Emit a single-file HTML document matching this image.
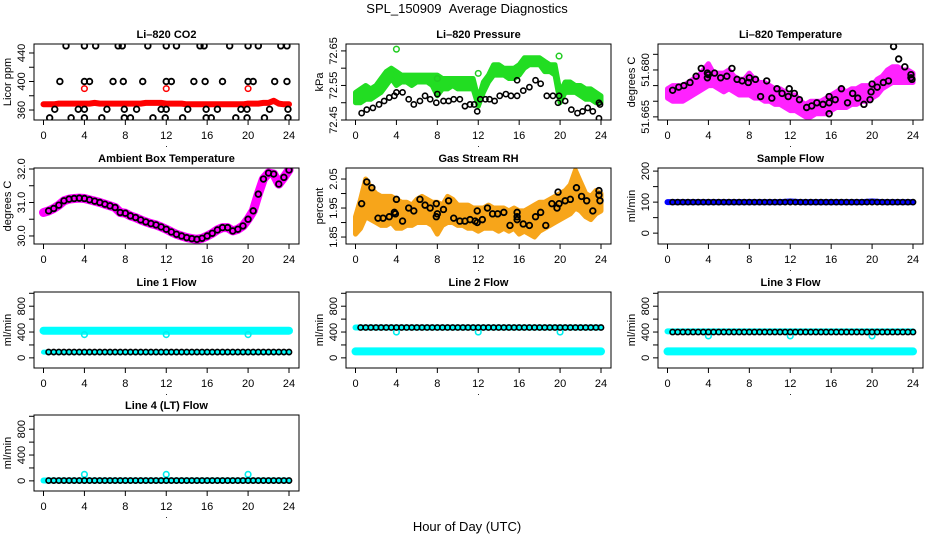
<!DOCTYPE html>
<html><head><meta charset="utf-8"><style>
html,body{margin:0;padding:0;background:#fff;}
svg{display:block;font-family:"Liberation Sans",sans-serif;}
</style></head><body>
<svg id="chart" width="936" height="540" viewBox="0 0 936 540" xmlns="http://www.w3.org/2000/svg">
<text x="467" y="13" font-size="13" text-anchor="middle">SPL_150909&#160;&#160;Average Diagnostics</text>
<text x="467" y="531" font-size="13" text-anchor="middle">Hour of Day (UTC)</text>
</svg>
<script>
// ---------- data ----------
const hourTicks = [0,4,8,12,16,20,24];
// CO2
const co2Red = [368,368,368,369,369,369,369,369,369,369,370,369,369,369,369,369,369,369,369,369,370,370,370,370,369,369,369,369,368,368,368,368,368,368,368,368,368,368,368,368,369,369,369,370,370,373,369,368,368];
const co2RedOutX = [4,12,20];
const co2RedOutY = [390,390,390];
const co2BlackX = [2.2,4,5.1,7.3,7.7,10.2,12,13,15.3,15.7,18.2,20,21,23.2,23.8, 1.6,4,4.5,6.8,7.8,9.7,12,12.5,14.7,15.8,17.5,20,20.5,22.6,23.8, 1.1,3.4,4,6.2,7.9,9.1,11.5,12,14.1,15.9,17,19.3,19.9,22.1,23.9, 0.6,2.7,4,5.7,7.9,8.5,10.7,11.9,13.6,15.9,16.4,18.8,19.9,21.6,23.9];
const co2BlackY = [450,450,450,450,450,450,450,450,450,450,450,450,450,450,450, 400,400,400,400,400,400,400,400,400,400,400,400,400,400,400, 361,361,361,361,361,361,361,361,361,361,361,361,361,361,361, 349,349,349,349,349,349,349,349,349,349,349,349,349,349,349];
// Pressure
const presLow = [72.50,72.50,72.51,72.51,72.52,72.53,72.55,72.57,72.55,72.56,72.56,72.55,72.56,72.56,72.56,72.55,72.52,72.54,72.54,72.55,72.54,72.54,72.54,72.54,72.49,72.53,72.56,72.58,72.58,72.58,72.57,72.57,72.58,72.60,72.61,72.61,72.61,72.59,72.59,72.58,72.50,72.53,72.53,72.53,72.52,72.51,72.51,72.50,72.50];
const presHigh = [72.53,72.54,72.55,72.54,72.55,72.57,72.59,72.60,72.59,72.58,72.58,72.58,72.58,72.58,72.58,72.58,72.58,72.57,72.57,72.57,72.57,72.57,72.57,72.57,72.51,72.56,72.58,72.61,72.61,72.60,72.60,72.60,72.61,72.63,72.63,72.63,72.63,72.62,72.61,72.61,72.53,72.56,72.56,72.55,72.55,72.54,72.54,72.53,72.52];
const presOutX = [4,12,19.9,8];
const presOutY = [72.655,72.585,72.635,72.57];
const presBlackX = [0.6,1.1,1.7,2.3,2.8,3.3,3.8,4,4.6,5.2,5.7,6.3,6.8,7.3,7.9,8,8.6,9.1,9.6,10.2,10.7,11.2,11.6,11.9,12.2,12.7,13.1,13.6,14.1,14.7,15.2,15.8,15.8,16.4,17,17.6,18.1,18.7,19.3,19.8,19.9,20.5,21.1,21.7,22.2,22.7,23.2,23.8,23.9,23.8];
const presBlackY = [72.47,72.48,72.485,72.495,72.505,72.515,72.52,72.53,72.53,72.51,72.495,72.505,72.52,72.51,72.50,72.525,72.505,72.505,72.51,72.51,72.49,72.495,72.495,72.475,72.51,72.51,72.51,72.505,72.52,72.525,72.52,72.52,72.565,72.535,72.545,72.565,72.555,72.52,72.52,72.50,72.52,72.505,72.48,72.47,72.475,72.485,72.475,72.455,72.495,72.50];
// Li-820 temperature
const tempLow = [51.671,51.670,51.670,51.670,51.671,51.672,51.673,51.674,51.675,51.675,51.674,51.673,51.674,51.673,51.672,51.672,51.672,51.671,51.671,51.670,51.670,51.669,51.669,51.668,51.667,51.667,51.666,51.665,51.665,51.666,51.666,51.666,51.667,51.668,51.668,51.668,51.669,51.669,51.670,51.670,51.671,51.672,51.674,51.675,51.676,51.676,51.676,51.676,51.676];
const tempHigh = [51.674,51.675,51.675,51.675,51.676,51.677,51.678,51.680,51.682,51.679,51.679,51.679,51.680,51.678,51.677,51.677,51.679,51.677,51.676,51.676,51.675,51.674,51.674,51.673,51.672,51.672,51.670,51.669,51.670,51.670,51.670,51.671,51.672,51.673,51.674,51.673,51.674,51.674,51.675,51.675,51.675,51.677,51.678,51.680,51.681,51.681,51.680,51.680,51.679];
const tempBlackX = [0.5,1.1,1.6,2.2,2.8,3.3,3.9,3.9,4.0,4.6,5.2,5.8,6.3,6.8,7.3,7.9,8.0,8.6,9.1,9.7,10.2,10.7,11.2,11.8,11.9,12.4,12.9,13.6,14.1,14.6,15.2,15.8,15.8,15.8,16.4,17.0,17.6,18.1,18.6,19.2,19.8,19.9,20.0,20.5,21.1,21.6,22.1,22.6,23.2,23.8,23.9,23.8];
const tempBlackY = [51.6735,51.6745,51.675,51.676,51.678,51.6805,51.679,51.6775,51.6785,51.679,51.6775,51.678,51.6805,51.677,51.6765,51.676,51.6775,51.677,51.6715,51.6765,51.671,51.674,51.6725,51.6715,51.674,51.6725,51.6705,51.668,51.6685,51.6695,51.669,51.6715,51.6695,51.666,51.6705,51.674,51.6695,51.6725,51.671,51.669,51.6705,51.673,51.6755,51.6745,51.676,51.6765,51.6875,51.6835,51.681,51.6785,51.677,51.6775];
// Ambient
const ambient = [30.70,30.75,30.82,30.92,31.05,31.10,31.12,31.13,31.12,31.08,31.04,31.00,30.95,30.90,30.85,30.70,30.68,30.60,30.55,30.48,30.42,30.37,30.33,30.27,30.20,30.12,30.05,30.00,29.95,29.92,29.90,29.93,30.00,30.08,30.18,30.25,30.25,30.15,30.20,30.30,30.50,30.75,31.25,31.70,31.88,31.85,31.55,31.75,31.97];
// RH
const rhLow = [1.86,1.88,1.92,1.91,1.90,1.89,1.89,1.90,1.88,1.88,1.89,1.89,1.90,1.90,1.90,1.89,1.86,1.89,1.90,1.90,1.89,1.89,1.88,1.88,1.87,1.88,1.88,1.88,1.87,1.88,1.87,1.88,1.86,1.87,1.86,1.85,1.87,1.88,1.89,1.90,1.91,1.92,1.93,1.95,1.94,1.92,1.91,1.93,1.94];
const rhHigh = [1.92,1.98,2.05,2.02,2.00,1.99,1.99,1.99,1.98,1.97,1.97,1.96,1.98,1.99,1.98,1.97,1.97,1.96,1.99,1.98,1.96,1.96,1.96,1.95,1.95,1.95,1.96,1.95,1.95,1.95,1.94,1.95,1.94,1.94,1.95,1.96,1.97,1.97,1.98,1.99,2.00,2.01,2.03,2.08,2.04,2.00,1.99,2.01,2.00];
const rhBlackX = [0.6,1.1,1.6,2.2,2.7,3.3,3.8,3.9,4.0,4.6,5.2,5.7,6.3,6.8,7.3,7.9,7.9,8.0,8.6,9.1,9.6,10.2,10.7,11.2,11.7,11.9,11.9,12.4,12.9,13.4,13.9,14.5,15.1,15.8,15.8,15.8,16.4,17.0,17.6,18.1,18.6,19.2,19.7,19.8,19.9,20.5,21.0,21.6,22.1,22.6,23.2,23.8,23.8,23.9];
const rhBlackY = [1.965,2.04,2.02,1.915,1.915,1.92,1.935,1.93,1.98,1.905,1.95,1.94,1.98,1.96,1.95,1.965,1.92,1.93,1.945,1.975,1.915,1.905,1.905,1.91,1.905,1.94,1.90,1.91,1.95,1.93,1.93,1.935,1.89,1.935,1.92,1.91,1.895,1.89,1.92,1.935,1.89,1.965,1.95,2.005,1.965,1.975,1.98,2.02,1.99,1.975,1.94,2.01,1.995,1.975];
// Flows (hourly band values, half-hour black averages)
const sampleBand = [100,100,100,100,100,100,100,100,100,100,100,100,102,100,100,100,100,100,100,100,102,100,100,100,100];
const sampleBlack = [100,100,100,100,100,100,100,100,100,100,100,100,100,100,100,100,100,100,100,100,100,100,100,100,100,100,100,100,100,100,100,100,100,100,100,100,100,100,100,100,100,100,100,100,100,100,100,100];
const line1High = [420,420,420,420,420,420,420,420,420,420,420,420,420,420,420,420,420,420,420,420,420,420,420,420,420];
const line1Low = [90,90,90,90,90,90,90,90,90,90,90,90,90,90,90,90,90,90,90,90,90,90,90,90,90];
const line1Black = [90,90,90,90,90,90,90,90,90,90,90,90,90,90,90,90,90,90,90,90,90,90,90,90,90,90,90,90,90,90,90,90,90,90,90,90,90,90,90,90,90,90,90,90,90,90,90,90];
const line1OutY = [360,360,360];
const line2High = [470,470,470,470,470,470,470,470,470,470,470,470,470,470,470,470,470,470,470,470,470,470,470,470,470];
const line2Low = [100,100,100,100,100,100,100,100,100,100,100,100,100,100,100,100,100,100,100,100,100,100,100,100,100];
const line2Black = [470,470,470,470,470,470,470,470,470,470,470,470,470,470,470,470,470,470,470,470,470,470,470,470,470,470,470,470,470,470,470,470,470,470,470,470,470,470,470,470,470,470,470,470,470,470,470,470];
const line2OutY = [400,400,400];
const line3High = [410,410,410,410,410,410,410,410,410,410,410,410,410,410,410,410,410,410,410,410,410,410,410,410,410];
const line3Low = [100,100,100,100,100,100,100,100,100,100,100,100,100,100,100,100,100,100,100,100,100,100,100,100,100];
const line3Black = [400,400,400,400,400,400,400,400,400,400,400,400,400,400,400,400,400,400,400,400,400,400,400,400,400,400,400,400,400,400,400,400,400,400,400,400,400,400,400,400,400,400,400,400,400,400,400,400];
const line3OutY = [340,340,340];
const line4Band = [5,5,5,5,5,5,5,5,5,5,5,5,5,5,5,5,5,5,5,5,5,5,5,5,5];
const line4Black = [5,5,5,5,5,5,5,5,5,5,5,5,5,5,5,5,5,5,5,5,5,5,5,5,5,5,5,5,5,5,5,5,5,5,5,5,5,5,5,5,5,5,5,5,5,5,5,5];
const line4OutY = [100,100,100];
const flowOutX = [4,12,20];

// ---------- drawing ----------
const NS = "http://www.w3.org/2000/svg";
const svg = document.getElementById("chart");
const COLS = [34,346,658], ROWS = [44,168,292,415], W = 265, H = 76;
function mk(tag, attrs, parent){ const e = document.createElementNS(NS, tag); for (const k in attrs) e.setAttribute(k, attrs[k]); (parent||svg).appendChild(e); return e; }
function xScale(c, h){ return COLS[c] + 9.5 + h * 245.5 / 24; }
function yScaleFn(r, dom){ return v => ROWS[r] + H - (v - dom[0]) / (dom[1] - dom[0]) * H; }
const halfHours = []; for (let i = 0; i < 49; i++) halfHours.push(i * 0.5);
const blackHours = []; for (let i = 1; i <= 48; i++) blackHours.push(i * 0.5);
const wholeHours = []; for (let i = 0; i < 25; i++) wholeHours.push(i);

function panel(name, c, r, title, ylab, dom, ticks, labels){
  const g = mk("g", {});
  
  
  const L = COLS[c], T = ROWS[r], B = T + H, y = yScaleFn(r, dom);
  const t = mk("text", {x: L + W/2, y: T - 6, "font-size": 11, "font-weight": "bold", "text-anchor": "middle"}, g);
  t.textContent = title;
  
  
  const yl = mk("text", {x: 0, y: 0, "font-size": 11, "text-anchor": "middle", transform: `translate(${L-23},${T+H/2}) rotate(-90)`}, g);
  yl.textContent = ylab;
  
  
  hourTicks.forEach(h => {
    const x = xScale(c, h);
    mk("line", {x1: x, y1: B, x2: x, y2: B + 5, stroke: "#000"}, g);
    const tl = mk("text", {x: x, y: B + 19, "font-size": 11, "text-anchor": "middle"}, g);
    tl.textContent = h;
    
    
  });
  const dot = mk("text", {x: L + W/2, y: B + 27, "font-size": 9, "text-anchor": "middle"}, g);
  dot.textContent = ".";
  ticks.forEach(v => {
    const yy = y(v);
    mk("line", {x1: L - 5, y1: yy, x2: L, y2: yy, stroke: "#000"}, g);
  });
  labels.forEach(v => {
    const yy = y(v);
    const tl = mk("text", {x: 0, y: 0, "font-size": 11, "text-anchor": "middle", transform: `translate(${L-9},${yy}) rotate(-90)`}, g);
    tl.textContent = v;
    
    
  });
  const clip = mk("clipPath", {id: "clip-" + name}, g);
  mk("rect", {x: L, y: T, width: W, height: H}, clip);
  const plot = mk("g", {"clip-path": `url(#clip-${name})`}, g);
  const box = mk("rect", {x: L, y: T, width: W, height: H, fill: "none", stroke: "#000"}, g);
  
  
  return {c, r, y, plot, name};
}
function circles(p, xs, ys, color, sw, rad, label){
  xs.forEach((h, i) => {
    const e = mk("circle", {cx: xScale(p.c, h), cy: p.y(ys[i]), r: rad || 2.8, fill: "none", stroke: color, "stroke-width": sw || 1.6}, p.plot);
    
    
  });
}
function band(p, xs, lo, hi, color, label){
  let d = "";
  xs.forEach((h, i) => { d += (i ? "L" : "M") + xScale(p.c, h).toFixed(1) + "," + p.y(hi[i]).toFixed(1); });
  for (let i = xs.length - 1; i >= 0; i--) d += "L" + xScale(p.c, xs[i]).toFixed(1) + "," + p.y(lo[i]).toFixed(1);
  const e = mk("path", {d: d + "Z", fill: color, stroke: color, "stroke-width": 5, "stroke-linejoin": "round"}, p.plot);
  
  
}
function thickLine(p, xs, ys, color, w, label){
  const pts = xs.map((h, i) => xScale(p.c, h).toFixed(1) + "," + p.y(ys[i]).toFixed(1)).join(" ");
  const e = mk("polyline", {points: pts, fill: "none", stroke: color, "stroke-width": w, "stroke-linecap": "round", "stroke-linejoin": "round"}, p.plot);
  
  
}

// CO2
let p = panel("co2", 0, 0, "Li\u2013820 CO2", "Licor ppm", [346, 452.6], [360,380,400,420,440], [360,400,440]);
thickLine(p, halfHours, co2Red, "#ff0000", 6, "co2-series");
circles(p, co2RedOutX, co2RedOutY, "#ff0000", 1.5, 2.8, "co2-outlier");
circles(p, co2BlackX, co2BlackY, "#000", 1.8, 2.8, "co2-average-point");
// Pressure
p = panel("pressure", 1, 0, "Li\u2013820 Pressure", "kPa", [72.45, 72.67], [72.45,72.50,72.55,72.60,72.65], ["72.45","72.55","72.65"]);
band(p, halfHours, presLow, presHigh, "#22dd22", "pressure-series");
circles(p, presOutX, presOutY, "#22cc22", 1.5, 2.8, "pressure-outlier");
circles(p, presBlackX, presBlackY, "#000", 1.6, 2.6, "pressure-average-point");
// Temp
p = panel("temperature", 2, 0, "Li\u2013820 Temperature", "degrees C", [51.664, 51.6883], [51.665,51.670,51.675,51.680,51.685], ["51.665","51.680"]);
band(p, halfHours, tempLow, tempHigh, "#ff22ff", "temperature-series");
circles(p, tempBlackX, tempBlackY, "#000", 1.8, 2.8, "temperature-average-point");
// Ambient
p = panel("ambient", 0, 1, "Ambient Box Temperature", "degrees C", [29.76, 32.03], [30,30.5,31,31.5,32], ["30.0","31.0","32.0"]);
thickLine(p, halfHours, ambient, "#ff00ff", 9, "ambient-series");
circles(p, blackHours, ambient.slice(1), "#000", 1.8, 2.8, "ambient-average-point");
// RH
p = panel("rh", 1, 1, "Gas Stream RH", "percent", [1.826, 2.088], [1.85,1.90,1.95,2.00,2.05], ["1.85","1.95","2.05"]);
band(p, halfHours, rhLow, rhHigh, "#f7a51a", "rh-series");
circles(p, rhBlackX, rhBlackY, "#000", 1.8, 2.8, "rh-average-point");
// Sample flow
p = panel("sample-flow", 2, 1, "Sample Flow", "ml/min", [-35, 210], [0,50,100,150,200], [0,100,200]);
thickLine(p, wholeHours, sampleBand, "#0000ff", 6, "sample-flow-series");
circles(p, blackHours, sampleBlack, "#000", 1.6, 2.6, "sample-flow-average-point");
// Line flows
const fDom = [-157, 1020], fTicks = [0,200,400,600,800,1000], fLab = [0,400,800];
p = panel("line1-flow", 0, 2, "Line 1 Flow", "ml/min", fDom, fTicks, fLab);
thickLine(p, wholeHours, line1High, "#00ffff", 8, "line1-flow-high-series");
thickLine(p, wholeHours, line1Low, "#00ffff", 5, "line1-flow-low-series");
circles(p, flowOutX, line1OutY, "#00eeee", 1.6, 2.8, "line1-flow-outlier");
circles(p, blackHours, line1Black, "#000", 1.6, 2.6, "line1-flow-average-point");
p = panel("line2-flow", 1, 2, "Line 2 Flow", "ml/min", fDom, fTicks, fLab);
thickLine(p, wholeHours, line2High, "#00ffff", 6, "line2-flow-high-series");
thickLine(p, wholeHours, line2Low, "#00ffff", 8, "line2-flow-low-series");
circles(p, flowOutX, line2OutY, "#00eeee", 1.6, 2.8, "line2-flow-outlier");
circles(p, blackHours, line2Black, "#000", 1.6, 2.6, "line2-flow-average-point");
p = panel("line3-flow", 2, 2, "Line 3 Flow", "ml/min", fDom, fTicks, fLab);
thickLine(p, wholeHours, line3High, "#00ffff", 6, "line3-flow-high-series");
thickLine(p, wholeHours, line3Low, "#00ffff", 8, "line3-flow-low-series");
circles(p, flowOutX, line3OutY, "#00eeee", 1.6, 2.8, "line3-flow-outlier");
circles(p, blackHours, line3Black, "#000", 1.6, 2.6, "line3-flow-average-point");
p = panel("line4-flow", 0, 3, "Line 4 (LT) Flow", "ml/min", fDom, fTicks, fLab);
thickLine(p, wholeHours, line4Band, "#00ffff", 6, "line4-flow-series");
circles(p, flowOutX, line4OutY, "#00eeee", 1.6, 2.8, "line4-flow-outlier");
circles(p, blackHours, line4Black, "#000", 1.6, 2.6, "line4-flow-average-point");
</script>
</body></html>
